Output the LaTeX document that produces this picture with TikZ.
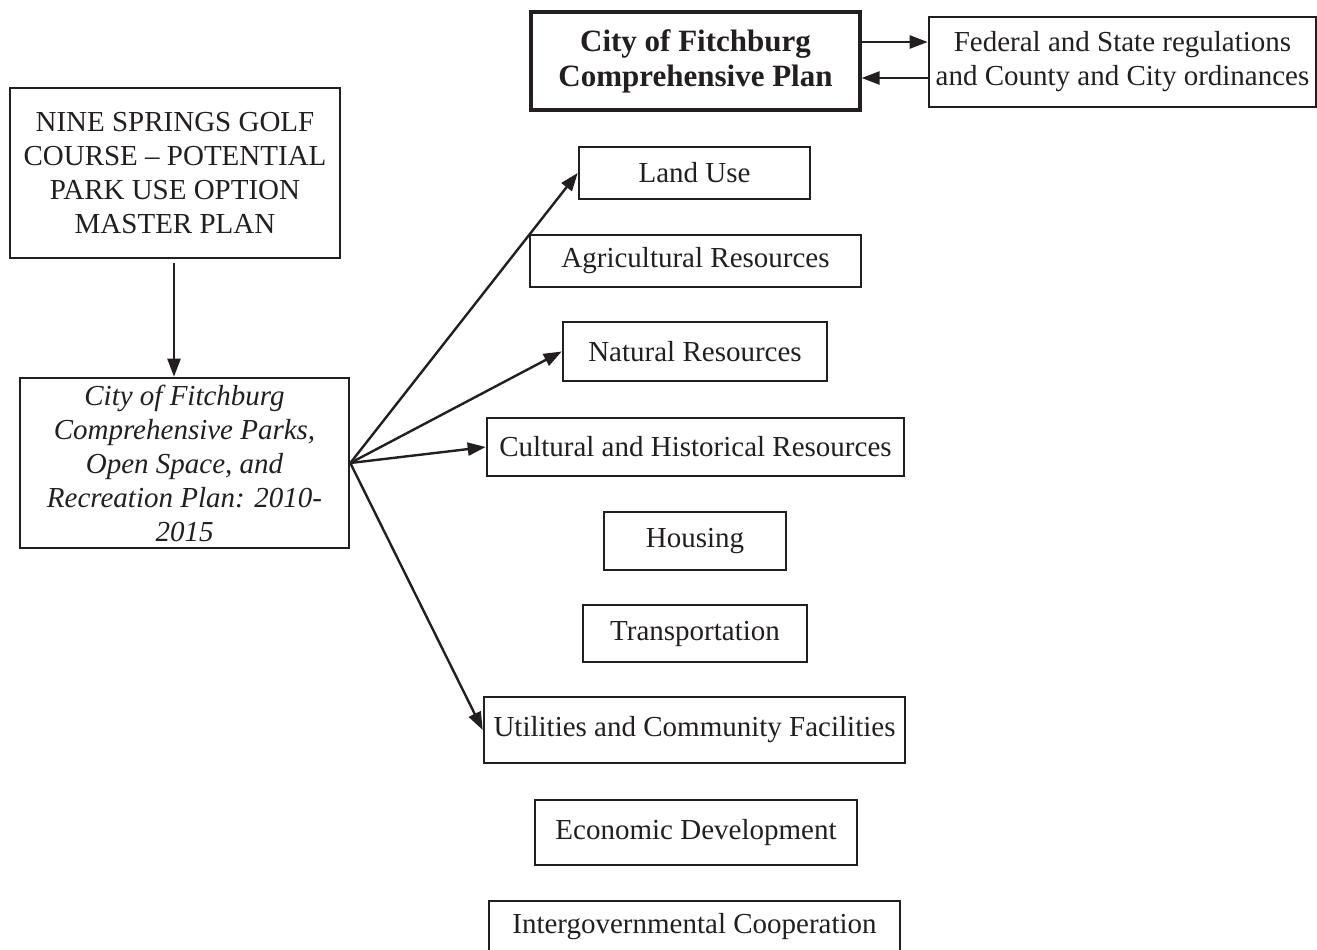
\documentclass[tikz,border=0pt]{standalone}
\usepackage{fontspec}
\setmainfont{Liberation Serif}
\usetikzlibrary{arrows.meta,calc}
\definecolor{ink}{RGB}{35,31,32}
\begin{document}
\begin{tikzpicture}[x=1pt,y=-1pt,
  every node/.style={text=ink},
  box/.style={draw=ink,line width=2.6pt,inner sep=0pt,align=center,
    font=\fontsize{29}{34}\selectfont},
  arr/.style={draw=ink,line width=2.4pt,-{Triangle[length=18pt,width=13pt]}}]
\useasboundingbox (0,0) rectangle (1317,950);
\fill[white] (0,0) rectangle (1317,950);
% top row
\node[box,line width=3.2pt,minimum width=329pt,minimum height=98pt,font=\bfseries\fontsize{31}{35}\selectfont] (cfcp) at (695.5,61) {City of Fitchburg\\Comprehensive Plan};
\node[box,minimum width=387pt,minimum height=90pt] (fed) at (1122.5,62) {Federal and State regulations\\and County and City ordinances};
% left column
\node[box,minimum width=330pt,minimum height=170pt] (nine) at (175,173) {NINE SPRINGS GOLF\\COURSE -- POTENTIAL\\PARK USE OPTION\\MASTER PLAN};
\node[box,minimum width=329pt,minimum height=170pt,font=\itshape\fontsize{29}{34}\selectfont] (parks) at (184.5,463) {City of Fitchburg\\Comprehensive Parks,\\Open Space, and\\Recreation Plan: 2010-\\2015};
% elements
\node[box,minimum width=231pt,minimum height=52pt] (land) at (694.5,173) {Land Use};
\node[box,minimum width=331pt,minimum height=52pt] (agri) at (695.5,261) {Agricultural Resources};
\node[box,minimum width=264pt,minimum height=59pt] (nat) at (695,351.5) {Natural Resources};
\node[box,minimum width=417pt,minimum height=58pt] (cult) at (695.5,447) {Cultural and Historical Resources};
\node[box,minimum width=182pt,minimum height=58pt] (hous) at (695,541) {Housing};
\node[box,minimum width=224pt,minimum height=57pt] (trans) at (695,633.5) {Transportation};
\node[box,minimum width=421pt,minimum height=66pt] (util) at (694.5,730) {Utilities and Community Facilities};
\node[box,minimum width=322pt,minimum height=65pt] (econ) at (696,832.5) {Economic Development};
\node[box,minimum width=411pt,minimum height=52pt] (inter) at (694.5,927) {Intergovernmental Cooperation};
% connectors
\draw[arr] ([yshift=19pt]cfcp.east) -- ([yshift=19pt]cfcp.east -| fed.west);
\draw[arr] ([yshift=-17pt]cfcp.east -| fed.west) -- ([yshift=-17pt]cfcp.east);
\draw[arr,shorten <=4pt] ([xshift=-1pt]nine.south) -- ([xshift=-1pt]nine.south |- parks.north);
\draw[arr] (parks.east) -- (land.west);
\draw[arr] (parks.east) -- (nat.west);
\draw[arr] (parks.east) -- (cult.west);
\draw[arr] (parks.east) -- (util.west);
\end{tikzpicture}
\end{document}
